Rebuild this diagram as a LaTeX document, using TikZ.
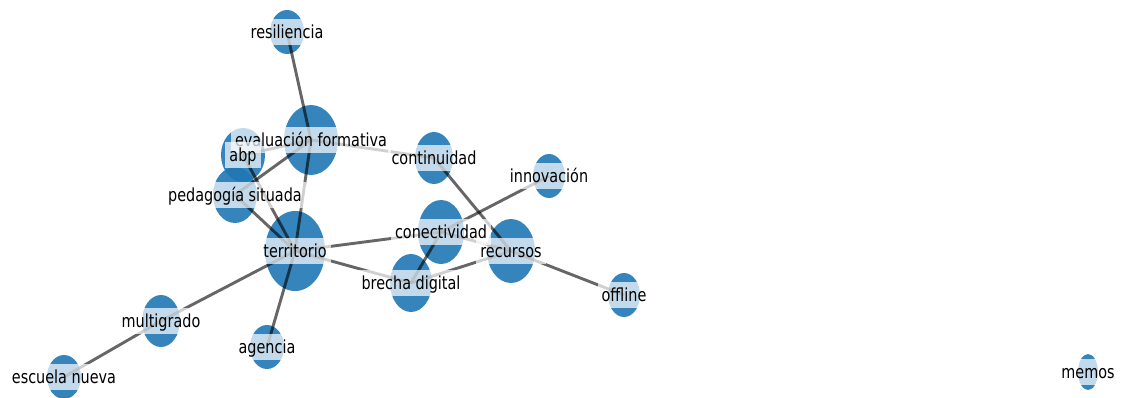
\documentclass[tikz,border=0pt]{standalone}
\usepackage{fontspec}
\setmainfont[FakeStretch=0.8]{DejaVu Sans}
\usetikzlibrary{shapes.geometric}
\newlength{\du}
\setlength{\du}{1pt}
\definecolor{nodeblue}{rgb}{0.121569, 0.466667, 0.705882}
\tikzset{
  vertex/.style={ellipse, inner sep=0pt, fill=nodeblue, fill opacity=0.9},
  link/.style={line width=2.9\du, draw=black, draw opacity=0.6},
  lbl/.style={fill=white, fill opacity=0.7, text opacity=1, inner xsep=4\du, inner ysep=4.5\du,
    text height=15\du, text depth=2\du, font=\fontsize{18}{20}\selectfont}
}

\begin{document}
\begin{tikzpicture}
\pgftransformxscale{1.000000}
\pgftransformyscale{-1.000000}
\useasboundingbox (0\du,0\du) rectangle (1125\du,397\du);
% nodes
\node[vertex, minimum width=34\du, minimum height=44\du] (resiliencia) at (287\du,32\du) {};
\node[vertex, minimum width=54\du, minimum height=70\du] (evaluacion) at (311\du,140\du) {};
\node[vertex, minimum width=44\du, minimum height=54\du] (abp) at (243\du,155\du) {};
\node[vertex, minimum width=44\du, minimum height=56\du] (pedagogia) at (235\du,195\du) {};
\node[vertex, minimum width=60\du, minimum height=80\du] (territorio) at (295\du,251\du) {};
\node[vertex, minimum width=38\du, minimum height=52\du] (continuidad) at (434\du,158\du) {};
\node[vertex, minimum width=46\du, minimum height=64\du] (conectividad) at (441\du,232\du) {};
\node[vertex, minimum width=42\du, minimum height=58\du] (brecha) at (411\du,283\du) {};
\node[vertex, minimum width=48\du, minimum height=64\du] (recursos) at (511\du,251\du) {};
\node[vertex, minimum width=32\du, minimum height=44\du] (innovacion) at (549\du,176\du) {};
\node[vertex, minimum width=32\du, minimum height=44\du] (offline) at (624\du,295\du) {};
\node[vertex, minimum width=38\du, minimum height=52\du] (multigrado) at (161\du,321\du) {};
\node[vertex, minimum width=34\du, minimum height=44\du] (agencia) at (267\du,347\du) {};
\node[vertex, minimum width=34\du, minimum height=44\du] (escuela) at (64\du,377\du) {};
\node[vertex, minimum width=20\du, minimum height=36\du] (memos) at (1088\du,372\du) {};
% edges
\draw[link] (resiliencia.center) -- (evaluacion.center);
\draw[link] (evaluacion.center) -- (territorio.center);
\draw[link] (territorio.center) -- (agencia.center);
\draw[link] (evaluacion.center) -- (abp.center);
\draw[link] (evaluacion.center) -- (pedagogia.center);
\draw[link] (evaluacion.center) -- (continuidad.center);
\draw[link] (abp.center) -- (territorio.center);
\draw[link] (pedagogia.center) -- (territorio.center);
\draw[link] (territorio.center) -- (conectividad.center);
\draw[link] (territorio.center) -- (brecha.center);
\draw[link] (territorio.center) -- (multigrado.center);
\draw[link] (multigrado.center) -- (escuela.center);
\draw[link] (conectividad.center) -- (brecha.center);
\draw[link] (conectividad.center) -- (innovacion.center);
\draw[link] (conectividad.center) -- (recursos.center);
\draw[link] (continuidad.center) -- (recursos.center);
\draw[link] (brecha.center) -- (recursos.center);
\draw[link] (recursos.center) -- (offline.center);
% labels
\node[lbl] (resiliencia-t) at (resiliencia) {resiliencia};
\node[lbl] (evaluacion-t) at (evaluacion) {evaluación formativa};
\node[lbl] (abp-t) at (abp) {abp};
\node[lbl] (pedagogia-t) at (pedagogia) {pedagogía situada};
\node[lbl] (territorio-t) at (territorio) {territorio};
\node[lbl] (continuidad-t) at (continuidad) {continuidad};
\node[lbl] (conectividad-t) at (conectividad) {conectividad};
\node[lbl] (brecha-t) at (brecha) {brecha digital};
\node[lbl] (recursos-t) at (recursos) {recursos};
\node[lbl] (innovacion-t) at (innovacion) {innovación};
\node[lbl] (offline-t) at (offline) {offline};
\node[lbl] (multigrado-t) at (multigrado) {multigrado};
\node[lbl] (agencia-t) at (agencia) {agencia};
\node[lbl] (escuela-t) at (escuela) {escuela nueva};
\node[lbl] (memos-t) at (memos) {memos};
\end{tikzpicture}
\end{document}
